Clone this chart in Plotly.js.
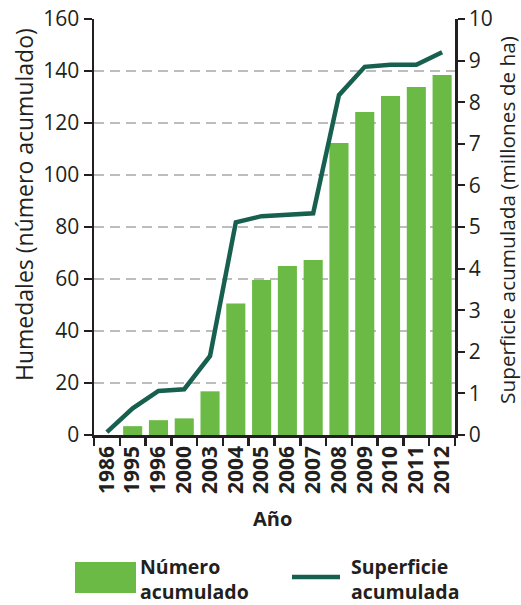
<!DOCTYPE html>
<html><head><meta charset="utf-8">
<script src="https://cdn.plot.ly/plotly-3.0.1.min.js"></script>
<style>html,body{margin:0;padding:0;background:#fff;}</style>
</head><body><div id="chart" style="width:521px;height:605px;"></div>
<script>
const years = ['1986','1995','1996','2000','2003','2004','2005','2006','2007','2008','2009','2010','2011','2012'];
const numeroAcumulado = [0, 3.4, 5.7, 6.4, 16.8, 50.6, 59.6, 65, 67.3, 112.3, 124.2, 130.4, 133.8, 138.5];
const superficieAcumulada = [0.07, 0.64, 1.06, 1.1, 1.9, 5.11, 5.26, 5.3, 5.33, 8.17, 8.85, 8.9, 8.9, 9.2];
const leftTicks = [0, 20, 40, 60, 80, 100, 120, 140, 160];
const rightTicks = [0, 1, 2, 3, 4, 5, 6, 7, 8, 9, 10];
const labels = {
  yLeft: 'Humedales (número acumulado)',
  yRight: 'Superficie acumulada (millones de ha)',
  x: 'Año',
  bars: 'Número<br>acumulado',
  line: 'Superficie<br>acumulada'
};

const dark = '#231f20';
const green = '#6aba45';
const teal = '#17604f';
const FONT = 'Open Sans, Noto Sans, sans-serif';

const L = 94, R = 455, T = 19, B = 435, W = 521, H = 605;
const px = x => (x - L) / (R - L);
const py = y => (B - y) / (B - T);

const traces = [
  {type: 'bar', x: years, y: numeroAcumulado, marker: {color: green}, name: 'Número acumulado', hoverinfo: 'x+y'},
  {type: 'scatter', mode: 'lines', x: years, y: superficieAcumulada, yaxis: 'y2',
   line: {color: teal, width: 4.5}, name: 'Superficie acumulada'}
];

const layout = {
  width: W, height: H,
  margin: {l: L, r: W - R, t: T, b: H - B, pad: 0},
  paper_bgcolor: '#fff', plot_bgcolor: '#fff',
  showlegend: false,
  bargap: 0.26,
  font: {family: FONT, color: dark, size: 20},
  xaxis: {
    type: 'category', categoryorder: 'array', categoryarray: years,
    tickson: 'boundaries', ticks: 'outside', ticklen: 8, tickwidth: 2.5, tickcolor: dark,
    showline: true, linecolor: dark, linewidth: 2.5,
    tickangle: -90, tickfont: {family: FONT, size: 21, color: dark, weight: 'bold'},
    showgrid: false, zeroline: false, fixedrange: true
  },
  yaxis: {
    range: [0, 160], tickvals: leftTicks, ticktext: leftTicks.map(String),
    ticks: 'outside', ticklen: 8, tickwidth: 2, tickcolor: dark,
    showline: true, linecolor: dark, linewidth: 2.5,
    tickfont: {family: FONT, size: 21, color: dark},
    showgrid: true, gridcolor: '#bdbdbd', gridwidth: 2, griddash: '10px,6px',
    zeroline: false, fixedrange: true
  },
  yaxis2: {
    range: [0, 10], tickvals: rightTicks, ticktext: rightTicks.map(String),
    overlaying: 'y', side: 'right',
    ticks: 'outside', ticklen: 7, tickwidth: 2, tickcolor: dark,
    showline: true, linecolor: dark, linewidth: 2.5,
    tickfont: {family: FONT, size: 21, color: dark},
    showgrid: false, zeroline: false, fixedrange: true
  },
  annotations: [
    {text: labels.yLeft, xref: 'paper', yref: 'paper', x: px(24), y: py(205), textangle: -90, borderpad: 0,
     showarrow: false, xanchor: 'center', yanchor: 'middle', font: {family: FONT, size: 23, color: dark}},
    {text: labels.yRight, xref: 'paper', yref: 'paper', x: px(507), y: py(220), textangle: -90, borderpad: 0,
     showarrow: false, xanchor: 'center', yanchor: 'middle', font: {family: FONT, size: 20.8, color: dark}},
    {text: labels.x, xref: 'paper', yref: 'paper', x: px(272), y: py(518),
     showarrow: false, xanchor: 'center', yanchor: 'middle', font: {family: FONT, size: 20, color: dark, weight: 'bold'}},
    {text: labels.bars, xref: 'paper', yref: 'paper', x: px(139), y: py(579), align: 'left', borderpad: 0,
     showarrow: false, xanchor: 'left', yanchor: 'middle', font: {family: FONT, size: 19.5, color: dark, weight: 'bold'}},
    {text: labels.line, xref: 'paper', yref: 'paper', x: px(350), y: py(579), align: 'left', borderpad: 0,
     showarrow: false, xanchor: 'left', yanchor: 'middle', font: {family: FONT, size: 19.5, color: dark, weight: 'bold'}}
  ],
  shapes: [
    {type: 'rect', xref: 'paper', yref: 'paper', x0: px(75), x1: px(136), y0: py(593), y1: py(562),
     fillcolor: green, line: {width: 0}},
    {type: 'line', xref: 'paper', yref: 'paper', x0: px(292), x1: px(340), y0: py(577), y1: py(577),
     line: {color: teal, width: 4.5}}
  ]
};

Plotly.newPlot('chart', traces, layout, {displayModeBar: false, staticPlot: true});
</script>
</body></html>
